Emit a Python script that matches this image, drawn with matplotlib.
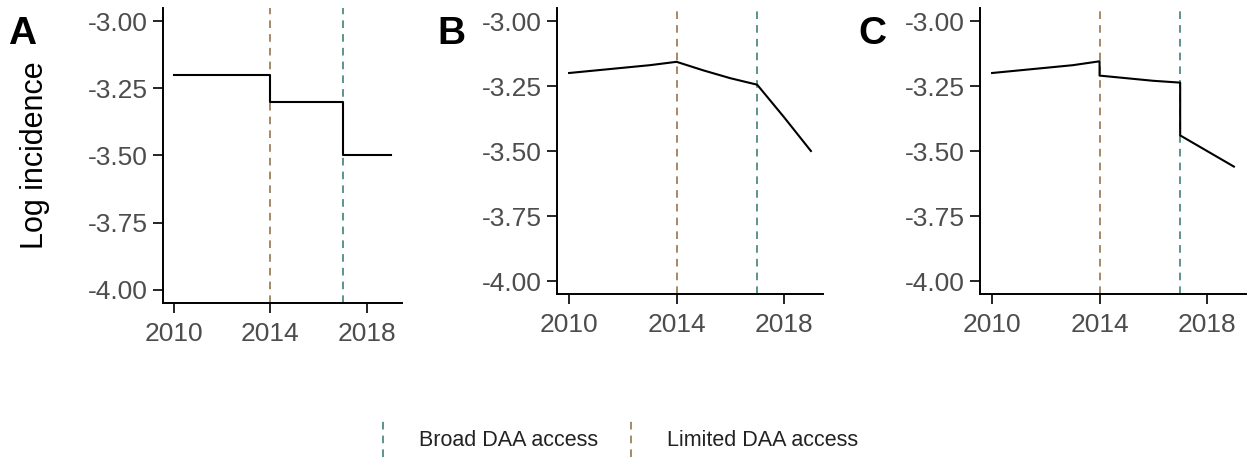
#!/usr/bin/env python3
"""Three-panel log incidence plot with DAA access markers."""

import matplotlib
matplotlib.use('Agg')
import matplotlib.pyplot as plt
from matplotlib.legend_handler import HandlerBase
from matplotlib.lines import Line2D

plt.rcParams['font.family'] = ['Liberation Sans', 'DejaVu Sans']

# Panel A: step change model
years_a = [2010, 2014, 2014, 2017, 2017, 2019]
vals_a = [-3.20, -3.20, -3.30, -3.30, -3.50, -3.50]

# Panel B: slope change model
years_b = [2010, 2011, 2012, 2013, 2014, 2015, 2016, 2017, 2018, 2019]
vals_b = [-3.20, -3.19, -3.18, -3.17, -3.157, -3.19, -3.22, -3.245, -3.37, -3.50]

# Panel C: step + slope change model
years_c = [2010, 2011, 2012, 2013, 2014, 2014, 2015, 2016, 2017, 2017, 2018, 2019]
vals_c = [-3.20, -3.19, -3.18, -3.17, -3.155, -3.21, -3.22, -3.23, -3.237,
          -3.44, -3.50, -3.56]

panel_labels = ['A', 'B', 'C']
limited_year = 2014
broad_year = 2017
y_ticks = [-3.00, -3.25, -3.50, -3.75, -4.00]
x_ticks = [2010, 2014, 2018]

LIMITED_COLOR = '#8c6a3e'
BROAD_COLOR = '#2f766e'
DASH = (0, (5, 4))


class VLineHandler(HandlerBase):
    def create_artists(self, legend, orig_handle, xdescent, ydescent,
                       width, height, fontsize, trans):
        x = width / 2 - xdescent
        line = Line2D([x, x], [-ydescent - height * 0.75, height * 1.75],
                      color=orig_handle.get_color(), linestyle=DASH, linewidth=1.1)
        line.set_transform(trans)
        return [line]


fig = plt.figure(figsize=(12.58, 4.71), dpi=100)
W, H = 1258, 471
boxes = [(163, 402, 8, 303), (557, 823, 8, 294), (980, 1246, 8, 294)]
label_pos = [(8, 16), (437, 16), (858, 16)]
series = [(years_a, vals_a), (years_b, vals_b), (years_c, vals_c)]

for (left, right, top, bottom), (xs, ys), lab, (lx, ly) in zip(boxes, series, panel_labels, label_pos):
    ax = fig.add_axes([left / W, 1 - bottom / H, (right - left) / W, (bottom - top) / H])
    ax.axvline(limited_year, color=LIMITED_COLOR, linestyle=DASH, linewidth=1.1)
    ax.axvline(broad_year, color=BROAD_COLOR, linestyle=DASH, linewidth=1.1)
    ax.plot(xs, ys, color='black', linewidth=1.5)
    ax.set_xlim(2009.55, 2019.45)
    ax.set_ylim(-4.05, -2.95)
    ax.set_yticks(y_ticks)
    ax.set_yticklabels([f'{v:.2f}' for v in y_ticks])
    ax.set_xticks(x_ticks)
    for side in ('top', 'right'):
        ax.spines[side].set_visible(False)
    for side in ('left', 'bottom'):
        ax.spines[side].set_linewidth(1.4)
    ax.tick_params(axis='both', length=7, width=1.2, labelsize=19,
                   labelcolor='#4d4d4d', color='black')
    ax.tick_params(axis='x', pad=7)
    ax.tick_params(axis='y', pad=4)
    fig.text(lx / W, 1 - ly / H, lab, fontsize=28, fontweight='bold',
             ha='left', va='top')

fig.text(35 / W, 1 - 155 / H, 'Log incidence', rotation=90, fontsize=22,
         ha='center', va='center')

handles = [Line2D([], [], color=BROAD_COLOR), Line2D([], [], color=LIMITED_COLOR)]
fig.legend(handles, ['Broad DAA access', 'Limited DAA access'],
           loc='center', bbox_to_anchor=(614 / W, 1 - 440 / H), ncol=2,
           frameon=False, fontsize=15.5, handler_map={Line2D: VLineHandler()},
           handlelength=1.2, handletextpad=1.1, columnspacing=0.9,
           labelcolor='#222222')

fig.savefig('out.png', dpi=100)
